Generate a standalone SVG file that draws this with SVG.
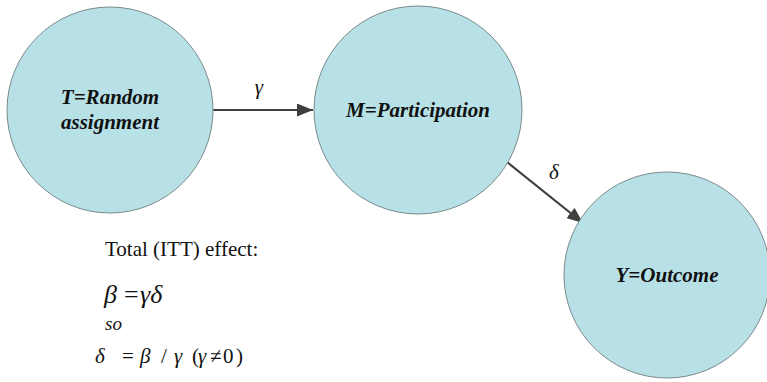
<svg xmlns="http://www.w3.org/2000/svg" width="767" height="382" viewBox="0 0 767 382">
<defs>
<marker id="ah2" viewBox="0 0 16 13" refX="16" refY="6.5" markerWidth="16" markerHeight="13" markerUnits="userSpaceOnUse" orient="auto">
<path d="M0,0 L16,6.5 L0,13 z" fill="#3f3f3f"/>
</marker>
</defs>
<rect width="767" height="382" fill="#ffffff"/>
<g id="edges" stroke="#3f3f3f" stroke-width="2.2" fill="none">
<line x1="213" y1="110" x2="313" y2="110" marker-end="url(#ah2)"/>
<line x1="507" y1="162" x2="583" y2="223" marker-end="url(#ah2)"/>
</g>
<text x="259" y="94" font-family="Times New Roman, Liberation Serif, serif" font-size="21" font-style="italic" text-anchor="middle" fill="#111">γ</text>
<text x="554" y="179" font-family="Times New Roman, Liberation Serif, serif" font-size="21" font-style="italic" text-anchor="middle" fill="#111">δ</text>
<g id="T">
<circle cx="110" cy="110" r="103" fill="#b7e1e6" stroke="#7a8a8c" stroke-width="1"/>
<text x="110" y="104" font-family="Times New Roman, Liberation Serif, serif" font-size="21" font-weight="bold" font-style="italic" text-anchor="middle" fill="#111">T=Random</text>
<text x="110" y="129" font-family="Times New Roman, Liberation Serif, serif" font-size="21" font-weight="bold" font-style="italic" text-anchor="middle" fill="#111">assignment</text>
</g>
<g id="M">
<circle cx="418" cy="110" r="104" fill="#b7e1e6" stroke="#7a8a8c" stroke-width="1"/>
<text x="418" y="117" font-family="Times New Roman, Liberation Serif, serif" font-size="21" font-weight="bold" font-style="italic" text-anchor="middle" fill="#111">M=Participation</text>
</g>
<g id="Y">
<circle cx="667" cy="275" r="103" fill="#b7e1e6" stroke="#7a8a8c" stroke-width="1"/>
<text x="667" y="282" font-family="Times New Roman, Liberation Serif, serif" font-size="21" font-weight="bold" font-style="italic" text-anchor="middle" fill="#111">Y=Outcome</text>
</g>
<text x="105" y="256" font-family="Times New Roman, Liberation Serif, serif" font-size="21" fill="#111">Total (ITT) effect:</text>
<text y="303" font-family="Times New Roman, Liberation Serif, serif" font-size="26" fill="#111"><tspan x="104" font-style="italic">β</tspan><tspan x="124">=</tspan><tspan x="140" font-style="italic">γδ</tspan></text>
<text x="105" y="330" font-family="Times New Roman, Liberation Serif, serif" font-size="19" font-style="italic" fill="#111">so</text>
<text y="363" font-family="Times New Roman, Liberation Serif, serif" font-size="21" fill="#111"><tspan x="95" font-style="italic">δ</tspan><tspan x="122">=</tspan><tspan x="140" font-style="italic">β</tspan><tspan x="161">/</tspan><tspan x="174" font-style="italic">γ</tspan><tspan x="192">(</tspan><tspan x="198" font-style="italic">γ</tspan><tspan x="210">≠</tspan><tspan x="223">0</tspan><tspan x="236">)</tspan></text>
</svg>
